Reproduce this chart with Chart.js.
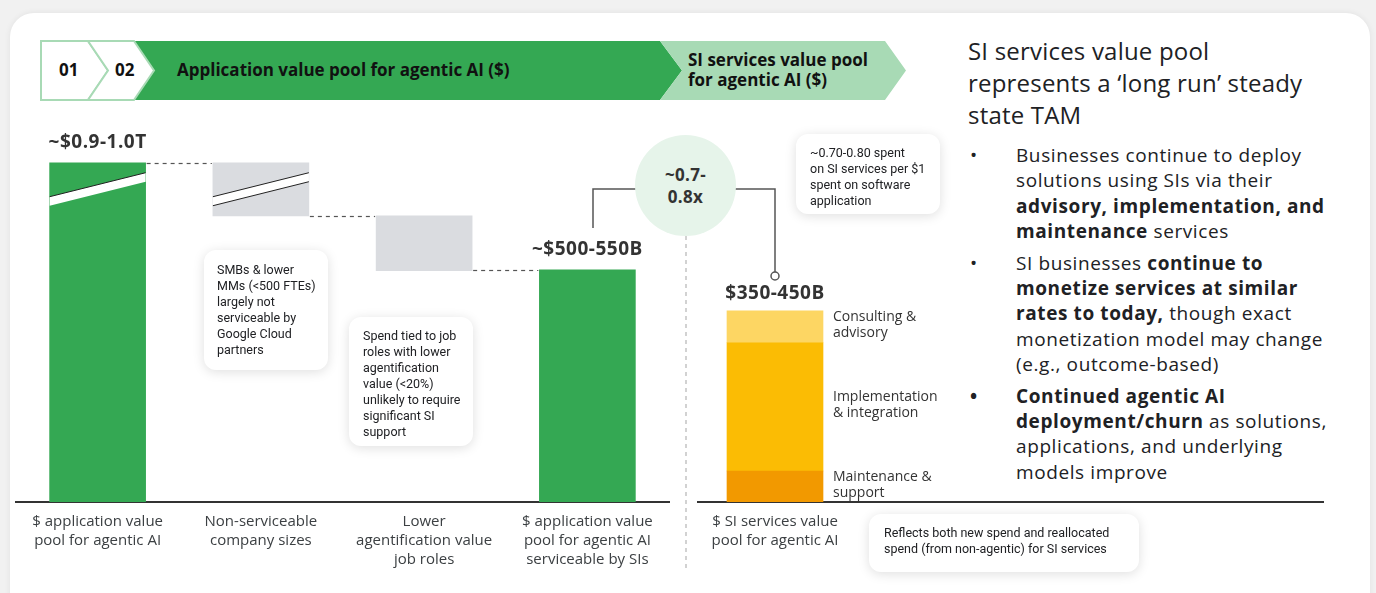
<!DOCTYPE html>
<html>
<head>
<meta charset="utf-8">
<script src="https://cdn.jsdelivr.net/npm/chart.js@4.4.0/dist/chart.umd.min.js"></script>
<style>
html, body { margin: 0; padding: 0; }
body { width: 1376px; height: 593px; background: #f1f1f1; overflow: hidden; position: relative;
       font-family: "Open Sans", Roboto, sans-serif; color: #202124; }
#card { position: absolute; left: 10px; top: 13px; width: 1360px; height: 640px; background: #fff;
        border-radius: 24px; box-shadow: 0 0 6px rgba(0,0,0,0.07); }
#deco { position: absolute; left: 0; top: 0; }
.box { position: absolute; }
.note { position: absolute; background: #fff; border-radius: 12px; box-shadow: 0 2px 12px rgba(0,0,0,0.13);
        font-family: Roboto, sans-serif; font-size: 12.5px; line-height: 16px; color: #202124;
        white-space: nowrap; box-sizing: border-box; }
.hdr { position: absolute; font-weight: bold; font-size: 17px; line-height: 20px; color: #111; white-space: nowrap; }
#ratio { position: absolute; left: 635px; top: 135px; width: 101px; height: 101px; border-radius: 50%;
         background: #e6f4ea; display: flex; align-items: center; justify-content: center; text-align: center;
         font-weight: bold; font-size: 17px; line-height: 22px; color: #333; letter-spacing: 0.3px; }
#side { position: absolute; left: 968px; top: 35px; white-space: nowrap; color: #202124; }
#side .title { font-size: 24px; line-height: 32px; letter-spacing: 0.2px; }
#side ul { list-style: none; margin: 12px 0 0 0; padding: 0; font-size: 19px; line-height: 25.3px; letter-spacing: 0.6px; }
#side li { position: relative; padding-left: 48px; margin-bottom: 6.5px; }
#side li span.dot { position: absolute; left: 2px; top: 0; }
#baseExt { position: absolute; height: 2px; background: #333; }
</style>
</head>
<body>
<div id="card"></div>

<svg id="deco" width="1376" height="593">
  <polygon points="134,41 660,41 682,70.5 660,100 134,100 154,70.5" fill="#34a853"/>
  <polygon points="660,41 885,41 906,70.5 885,100 660,100 682,70.5" fill="#a8dab5"/>
  <polygon points="41,41 88,41 108,70.5 88,100 41,100" fill="#fff" stroke="#a8dab5" stroke-width="2"/>
  <polygon points="88,41 134,41 154,70.5 134,100 88,100 108,70.5" fill="#fff" stroke="#a8dab5" stroke-width="2"/>
  <line x1="686" y1="236" x2="686" y2="572" stroke="#c4c4c4" stroke-width="1.5" stroke-dasharray="4 4"/>
  <polyline points="593,228 593,189 640,189" fill="none" stroke="#555" stroke-width="1.5"/>
  <polyline points="732,189 775,189 775,272" fill="none" stroke="#555" stroke-width="1.5"/>
  <circle cx="775" cy="276" r="4" fill="#fff" stroke="#555" stroke-width="1.5"/>
</svg>

<div class="hdr" style="left:59px;top:60px;">01</div>
<div class="hdr" style="left:115px;top:60px;">02</div>
<div class="hdr" style="left:177px;top:60px;">Application value pool for agentic AI ($)</div>
<div class="hdr" style="left:688px;top:50px;">SI services value pool<br>for agentic AI ($)</div>

<div class="box" style="left:0;top:100px;width:690px;height:472px;"><canvas id="appChart"></canvas></div>
<div class="box" style="left:690px;top:100px;width:260px;height:472px;"><canvas id="siChart"></canvas></div>
<div id="baseExt"></div>

<div id="ratio">~0.7-<br>0.8x</div>

<div class="note" style="left:204px;top:250px;width:124px;height:120px;padding:12px 0 0 13px;">SMBs &amp; lower<br>MMs (&lt;500 FTEs)<br>largely not<br>serviceable by<br>Google Cloud<br>partners</div>
<div class="note" style="left:349px;top:317px;width:124px;height:129px;padding:11px 0 0 14px;">Spend tied to job<br>roles with lower<br>agentification<br>value (&lt;20%)<br>unlikely to require<br>significant SI<br>support</div>
<div class="note" style="left:796px;top:134px;width:144px;height:80px;padding:11px 0 0 14px;">~0.70-0.80 spent<br>on SI services per $1<br>spent on software<br>application</div>
<div class="note" style="left:869px;top:514px;width:270px;height:58px;padding:11px 0 0 15px;">Reflects both new spend and reallocated<br>spend (from non-agentic) for SI services</div>

<div id="side">
  <div class="title">SI services value pool<br>represents a ‘long run’ steady<br>state TAM</div>
  <ul>
    <li><span class="dot">•</span>Businesses continue to deploy<br>solutions using SIs via their<br><b>advisory, implementation, and</b><br><b>maintenance</b> services</li>
    <li><span class="dot">•</span>SI businesses <b>continue to</b><br><b>monetize services at similar</b><br><b>rates to today,</b> though exact<br>monetization model may change<br>(e.g., outcome-based)</li>
    <li><span class="dot"><b>•</b></span><b>Continued agentic AI</b><br><b>deployment/churn</b> as solutions,<br>applications, and underlying<br>models improve</li>
  </ul>
</div>

<script>
// --- Data (bar heights as drawn; the first two bars sit on a broken axis) ---
const appCategories = [
    ['$ application value', 'pool for agentic AI'],
    ['Non-serviceable', 'company sizes'],
    ['Lower', 'agentification value', 'job roles'],
    ['$ application value', 'pool for agentic AI', 'serviceable by SIs']
];
const appStart = [0, 647, 523, 0];
const appEnd = [767, 767, 647, 525];
const appColors = ['#34a853', '#dadce0', '#dadce0', '#34a853'];
const appValueLabels = ['~$0.9-1.0T', '', '', '~$500-550B'];
const appBreaks = [true, true, false, false];

const siCategories = [['$ SI services value', 'pool for agentic AI']];
const siTotalLabel = '$350-450B';
const siSegmentNames = [['Maintenance &', 'support'], ['Implementation', '& integration'], ['Consulting &', 'advisory']];
const siMaintenance = [70];
const siImplementation = [290];
const siConsulting = [72];

const axisMax = 850;
const fontFamily = '"Open Sans", Roboto, sans-serif';

function fixedAxisHeight(scale) { scale.height = 70; }

// --- Plugins ---

const waterfallDecor = {
    id: 'waterfallDecor',
    afterDatasetsDraw(chart) {
        const ctx = chart.ctx;
        const bars = chart.getDatasetMeta(0).data;
        ctx.save();

        // dashed connectors between steps
        ctx.setLineDash([4, 4]);
        ctx.strokeStyle = '#555';
        ctx.lineWidth = 1.2;
        for (let i = 0; i < bars.length - 1; i++) {
            const a = bars[i], b = bars[i + 1];
            const y = Math.round(b.y) + 0.5;
            ctx.beginPath();
            ctx.moveTo(a.x + a.width / 2 + 1, y);
            ctx.lineTo(b.x - b.width / 2 - 1, y);
            ctx.stroke();
        }
        ctx.setLineDash([]);

        // axis break marks
        appBreaks.forEach((hasBreak, i) => {
            if (!hasBreak) return;
            const b = bars[i];
            const l = b.x - b.width / 2, r = b.x + b.width / 2, top = b.y;
            ctx.fillStyle = '#fff';
            ctx.beginPath();
            ctx.moveTo(l, top + 34);
            ctx.lineTo(r, top + 10);
            ctx.lineTo(r, top + 19);
            ctx.lineTo(l, top + 43);
            ctx.closePath();
            ctx.fill();
            ctx.strokeStyle = '#222';
            ctx.lineWidth = 1;
            ctx.beginPath();
            ctx.moveTo(l, top + 34);
            ctx.lineTo(r, top + 10);
            ctx.stroke();
            if (i > 0) {
                ctx.beginPath();
                ctx.moveTo(l, top + 43);
                ctx.lineTo(r, top + 19);
                ctx.stroke();
            }
        });

        // value labels
        ctx.fillStyle = '#333';
        ctx.font = `bold 19px ${fontFamily}`;
        ctx.letterSpacing = '0.5px';
        ctx.textAlign = 'center';
        ctx.textBaseline = 'middle';
        bars.forEach((b, i) => {
            if (appValueLabels[i]) ctx.fillText(appValueLabels[i], b.x, b.y - 20);
        });
        ctx.restore();
    }
};

const stackDecor = {
    id: 'stackDecor',
    afterDatasetsDraw(chart) {
        const ctx = chart.ctx;
        ctx.save();
        ctx.fillStyle = '#333';
        ctx.textBaseline = 'middle';

        const topBar = chart.getDatasetMeta(chart.data.datasets.length - 1).data[0];
        ctx.font = `bold 19px ${fontFamily}`;
        ctx.letterSpacing = '0.5px';
        ctx.textAlign = 'center';
        ctx.fillText(siTotalLabel, topBar.x, topBar.y - 17);

        ctx.font = `14px ${fontFamily}`;
        ctx.letterSpacing = '0px';
        ctx.textAlign = 'left';
        chart.data.datasets.forEach((ds, i) => {
            const el = chart.getDatasetMeta(i).data[0];
            const mid = (el.y + el.base) / 2;
            const lines = siSegmentNames[i];
            lines.forEach((t, k) => {
                ctx.fillText(t, el.x + el.width / 2 + 10, mid - 2 + (k - (lines.length - 1) / 2) * 16);
            });
        });
        ctx.restore();
    }
};

// --- Charts ---

const commonX = {
    grid: { display: false },
    border: { display: true, color: '#333', width: 2 },
    ticks: { color: '#3c4043', padding: 2, font: { family: fontFamily, size: 15, lineHeight: 1.27 } },
    afterFit: fixedAxisHeight
};

const appChart = new Chart(document.getElementById('appChart'), {
    type: 'bar',
    data: {
        labels: appCategories,
        datasets: [{
            data: appStart.map((s, i) => [s, appEnd[i]]),
            backgroundColor: appColors,
            borderWidth: 0,
            barThickness: 96
        }]
    },
    options: {
        responsive: true,
        maintainAspectRatio: false,
        animation: false,
        layout: { padding: { left: 16, right: 21, top: 26, bottom: 0 } },
        scales: {
            x: commonX,
            y: { display: false, min: 0, max: axisMax }
        },
        plugins: { legend: { display: false }, tooltip: { enabled: false } }
    },
    plugins: [waterfallDecor]
});

const siChart = new Chart(document.getElementById('siChart'), {
    type: 'bar',
    data: {
        labels: siCategories,
        datasets: [
            { label: 'Maintenance & support', data: siMaintenance, backgroundColor: '#f29900', barThickness: 96 },
            { label: 'Implementation & integration', data: siImplementation, backgroundColor: '#fbbc04', barThickness: 96 },
            { label: 'Consulting & advisory', data: siConsulting, backgroundColor: '#fdd663', barThickness: 96 }
        ]
    },
    options: {
        responsive: true,
        maintainAspectRatio: false,
        animation: false,
        layout: { padding: { left: 8, right: 98, top: 26, bottom: 0 } },
        scales: {
            x: Object.assign({}, commonX, { stacked: true }),
            y: { display: false, stacked: true, min: 0, max: axisMax }
        },
        plugins: { legend: { display: false }, tooltip: { enabled: false } }
    },
    plugins: [stackDecor]
});

// extend the SI baseline under the side text
const area = siChart.chartArea;
const ext = document.getElementById('baseExt');
ext.style.left = (690 + area.right) + 'px';
ext.style.top = (100 + area.bottom - 1) + 'px';
ext.style.width = (1324 - 690 - area.right) + 'px';
</script>
</body>
</html>
